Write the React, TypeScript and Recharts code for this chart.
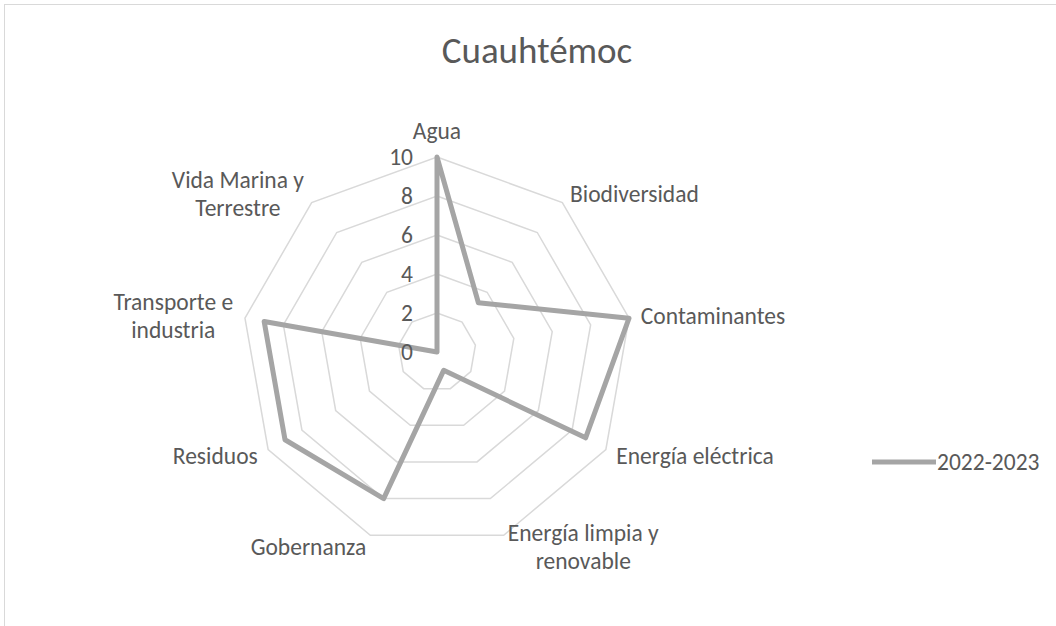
import React from "react";
import {
  RadarChart,
  PolarGrid,
  PolarAngleAxis,
  PolarRadiusAxis,
  Radar,
  Legend,
} from "recharts";

const TITLE = "Cuauhtémoc";
const SERIES_NAME = "2022-2023";

const CATEGORIES = [
  "Agua",
  "Biodiversidad",
  "Contaminantes",
  "Energía eléctrica",
  "Energía limpia y renovable",
  "Gobernanza",
  "Residuos",
  "Transporte e industria",
  "Vida Marina y Terrestre",
];

const VALUES_2022_2023 = [10, 3.3, 10, 8.8, 1, 8, 9, 9, 0];

const RADIUS_TICKS = [0, 2, 4, 6, 8, 10];

const data = CATEGORIES.map((category, i) => ({
  category,
  value: VALUES_2022_2023[i],
}));

const W = 1056;
const H = 626;
const CX = 437;
const CY = 352;
const R = 195;
const FONT = "Carlito, Calibri, Lato, sans-serif";
const TEXT = "#595959";
const LABEL_SIZE = 23.5;
const LINE_H = 28;

// greedy word wrap, like Excel does for long category names
function wrap(label: string, max = 17) {
  const lines: string[] = [];
  let cur = "";
  for (const w of label.split(" ")) {
    const next = cur ? cur + " " + w : w;
    if (next.length > max && cur) {
      lines.push(cur);
      cur = w;
    } else cur = next;
  }
  if (cur) lines.push(cur);
  return lines;
}

let ctx: CanvasRenderingContext2D | null = null;
function textWidth(s: string, size: number) {
  if (!ctx) ctx = document.createElement("canvas").getContext("2d");
  if (!ctx) return s.length * size * 0.5;
  ctx.font = `${size}px ${FONT}`;
  return ctx.measureText(s).width;
}

function AngleTick(props: any) {
  const { payload } = props;
  const a = (payload.coordinate * Math.PI) / 180;
  const cos = Math.cos(a);
  const sin = Math.sin(a);
  const r = R + 12;
  const px = CX + cos * r;
  const py = CY - sin * r;
  const lines = wrap(String(payload.value));
  const bw = Math.max(...lines.map((l) => textWidth(l, LABEL_SIZE)));
  const bh = lines.length * LINE_H;

  let left = px - bw / 2;
  if (cos > 0.1) left = px;
  else if (cos < -0.1) left = px - bw;

  let top = py - bh / 2;
  if (Math.abs(cos) <= 0.1) top = sin > 0 ? py - bh : py;

  return (
    <text
      fontFamily={FONT}
      fontSize={LABEL_SIZE}
      fill={TEXT}
      textAnchor="middle"
    >
      {lines.map((l, i) => (
        <tspan key={i} x={left + bw / 2} y={top + LINE_H * i + LINE_H / 2} dy="0.35em">
          {l}
        </tspan>
      ))}
    </text>
  );
}

function RadiusTick(props: any) {
  const { x, y, payload } = props;
  return (
    <text
      x={x - 24}
      y={y}
      dy="0.35em"
      textAnchor="end"
      fontFamily={FONT}
      fontSize={LABEL_SIZE}
      fill={TEXT}
    >
      {payload.value}
    </text>
  );
}

function LegendContent(props: any) {
  const item = props.payload?.[0];
  return (
    <div style={{ display: "flex", alignItems: "center" }}>
      <svg width={64} height={10}>
        <line x1={0} y1={5} x2={64} y2={5} stroke={item?.color ?? "#a5a5a5"} strokeWidth={5} />
      </svg>
      <span style={{ fontFamily: FONT, fontSize: LABEL_SIZE, color: TEXT, marginLeft: 1 }}>
        {item?.value ?? SERIES_NAME}
      </span>
    </div>
  );
}

export default function App() {
  return (
    <div style={{ position: "relative", width: W, height: H, background: "#fff" }}>
      <style>{`body{margin:0}`}</style>
      <div
        style={{
          position: "absolute",
          left: 4,
          top: 4,
          right: 0,
          bottom: 0,
          borderLeft: "1px solid #d9d9d9",
          borderTop: "1px solid #d9d9d9",
        }}
      />
      <RadarChart width={W} height={H} data={data} cx={CX} cy={CY} outerRadius={R}>
        <PolarGrid gridType="polygon" radialLines={false} stroke="#d9d9d9" strokeWidth={1.5} />
        <PolarAngleAxis dataKey="category" axisLine={false} tickLine={false} tick={<AngleTick />} />
        <PolarRadiusAxis
          angle={90}
          domain={[0, 10]}
          ticks={RADIUS_TICKS}
          tickCount={6}
          axisLine={false}
          tickLine={false}
          tick={<RadiusTick />}
        />
        <Radar
          name={SERIES_NAME}
          dataKey="value"
          stroke="#a5a5a5"
          strokeWidth={5}
          strokeLinejoin="round"
          fill="none"
          fillOpacity={0}
          dot={false}
          isAnimationActive={false}
        />
        <Legend
          layout="vertical"
          align="right"
          verticalAlign="middle"
          wrapperStyle={{ left: 872, top: 448, width: 184 }}
          content={<LegendContent />}
        />
      </RadarChart>
      <svg
        width={W}
        height={H}
        style={{ position: "absolute", left: 0, top: 0, pointerEvents: "none" }}
      >
        <text x={537} y={63} textAnchor="middle" fontFamily={FONT} fontSize={37} fill={TEXT}>
          {TITLE}
        </text>
      </svg>
    </div>
  );
}
